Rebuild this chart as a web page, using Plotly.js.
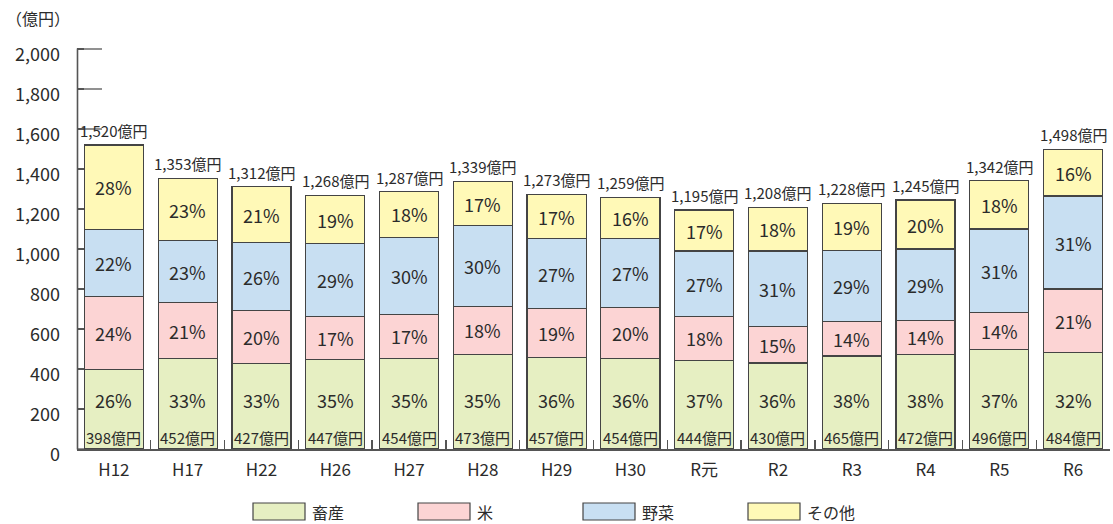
<!DOCTYPE html>
<html>
<head>
<meta charset="utf-8">
<script src="https://cdn.plot.ly/plotly-3.0.1.min.js"></script>
<style>body{margin:0;background:#fff}#chart{width:1113px;height:524px}</style>
</head>
<body>
<div id="chart"></div>
<script>
const categories = ['H12','H17','H22','H26','H27','H28','H29','H30','R元','R2','R3','R4','R5','R6'];
const totals = [1520,1353,1312,1268,1287,1339,1273,1259,1195,1208,1228,1245,1342,1498];
const seriesNames = ['畜産','米','野菜','その他'];
const chikusan = [398,452,427,447,454,473,457,454,444,430,465,472,496,484];
const kome     = [363,281,265,216,219,241,245,255,218,183,172,172,188,316];
const yasai    = [337,308,340,364,386,402,350,345,328,377,356,356,416,465];
const sonota   = [422,312,280,241,228,223,221,205,205,218,235,245,242,233];
const pctChikusan = [26,33,33,35,35,35,36,36,37,36,38,38,37,32];
const pctKome     = [24,21,20,17,17,18,19,20,18,15,14,14,14,21];
const pctYasai    = [22,23,26,29,30,30,27,27,27,31,29,29,31,31];
const pctSonota   = [28,23,21,19,18,17,17,16,17,18,19,20,18,16];
const yTicks = [0,200,400,600,800,1000,1200,1400,1600,1800,2000];
const yTickText = ['0','200','400','600','800','1,000','1,200','1,400','1,600','1,800','2,000'];

const colors = ['#e6efc2','#fcd4d4','#c8dff2','#fff9b7'];
const lineCol = '#444';
const JP = '"Noto Sans CJK JP", "Noto Sans", sans-serif';
const txtCol = '#2b2b2b';

const series = [chikusan, kome, yasai, sonota];
const pcts = [pctChikusan, pctKome, pctYasai, pctSonota];

const traces = series.map((vals, i) => ({
  type: 'bar', x: categories, y: vals, name: seriesNames[i],
  marker: {color: colors[i], line: {color: lineCol, width: 1.2}},
  hoverinfo: 'x+y+name'
}));

const fmt = n => n.toLocaleString('en-US');
const annotations = [];
const chikusanPctY = 245;   // label position inside bottom segment
const chikusanValY = 60;
categories.forEach((c, j) => {
  let base = 0;
  series.forEach((vals, i) => {
    const v = vals[j];
    let yy = base + v / 2;
    if (i === 0) yy = chikusanPctY;
    annotations.push({x: c, y: yy, xref: 'x', yref: 'y', text: pcts[i][j] + '%',
      showarrow: false, font: {family: JP, size: 18, color: txtCol}});
    base += v;
  });
  annotations.push({x: c, y: chikusanValY, xref: 'x', yref: 'y', text: fmt(chikusan[j]) + '億円',
    showarrow: false, font: {family: JP, size: 15, color: txtCol}});
  annotations.push({x: c, y: totals[j], xref: 'x', yref: 'y', text: fmt(totals[j]) + '億円',
    showarrow: false, yanchor: 'bottom', yshift: 2, font: {family: JP, size: 15, color: txtCol}});
});

const W = 1113, L = 77, R = 3, T = 47, B = 75;
const pw = W - L - R, ph = 524 - T - B;
const px = v => (v - L) / pw;
const py = v => 1 - (v - T) / ph;
annotations.push({xref: 'paper', yref: 'paper', x: px(4), y: py(18), xanchor: 'left', yanchor: 'middle',
  text: '（億円）', showarrow: false, font: {family: JP, size: 16, color: txtCol}});

const shapes = [];
// long inside ticks drawn under the bars
yTicks.forEach(t => {
  shapes.push({type: 'line', layer: 'below', xref: 'paper', yref: 'y', x0: 0, x1: px(102), y0: t, y1: t,
    line: {color: '#555', width: 1.3}});
});
// vertical axis line
shapes.push({type: 'line', layer: 'above', xref: 'paper', yref: 'paper', x0: px(77.5), x1: px(77.5),
  y0: py(449.5), y1: py(48.5), line: {color: '#555', width: 1.6}});
// custom legend
const legX = [253, 418, 583, 748];
seriesNames.forEach((n, i) => {
  shapes.push({type: 'rect', xref: 'paper', yref: 'paper', x0: px(legX[i]), x1: px(legX[i] + 52),
    y0: py(520), y1: py(503), fillcolor: colors[i], line: {color: lineCol, width: 1.2}});
  annotations.push({xref: 'paper', yref: 'paper', x: px(legX[i] + 57), y: py(512), xanchor: 'left', yanchor: 'middle',
    text: n, showarrow: false, font: {family: JP, size: 16, color: txtCol}});
});

const layout = {
  width: W, height: 524,
  margin: {l: L, r: R, t: T, b: B},
  barmode: 'stack', bargap: 0.2,
  showlegend: false,
  paper_bgcolor: '#fff', plot_bgcolor: 'rgba(0,0,0,0)',
  xaxis: {type: 'category', tickson: 'boundaries', ticks: 'inside', ticklen: 9, tickwidth: 1.4,
    tickcolor: '#555', showline: true, linecolor: '#555', linewidth: 1.5, showgrid: false,
    tickfont: {family: JP, size: 17, color: txtCol}, ticklabelstandoff: 5},
  yaxis: {range: [0, 2010], tickvals: yTicks, ticktext: yTickText, ticks: 'inside', ticklen: 7,
    tickwidth: 1.3, tickcolor: '#555', showline: false, showgrid: false, zeroline: false,
    tickfont: {family: JP, size: 18, color: txtCol},
    ticklabelstandoff: 16, ticklabelshift: 6},
  annotations: annotations,
  shapes: shapes
};

Plotly.newPlot('chart', traces, layout, {displayModeBar: false, staticPlot: true});
</script>
</body>
</html>
